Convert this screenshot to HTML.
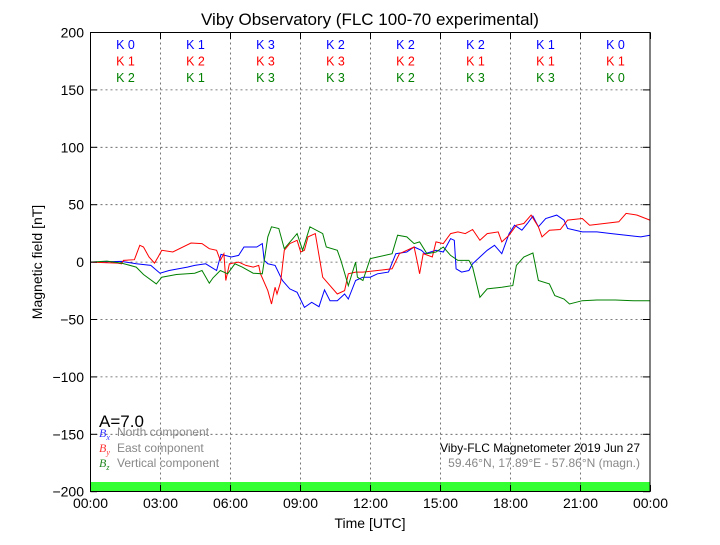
<!DOCTYPE html><html><head><style>body{margin:0;background:#fff}svg{font-family:"Liberation Sans",sans-serif}</style></head><body>
<svg id="s" width="720" height="540" viewBox="0 0 720 540">
<rect width="720" height="540" fill="#fff"/>
<text x="370" y="25" font-size="17" text-anchor="middle">Viby Observatory (FLC 100-70 experimental)</text>
<rect x="90.5" y="482" width="559.5" height="9" fill="#33ff33"/>
<g id="grid" stroke="#555" stroke-dasharray="2,3" stroke-width="0.8"></g>
<g id="lines" fill="none" stroke-width="1"></g>
<rect x="90.5" y="32.5" width="559.5" height="459" fill="none" stroke="#000" stroke-width="1"/>
<g id="ticks" stroke="#000"></g>
<g id="lab" font-size="14"></g>
<g id="k" font-size="12.5" text-anchor="middle"></g>
<text x="370" y="528" font-size="14" text-anchor="middle">Time [UTC]</text>
<text transform="translate(42,262) rotate(-90)" font-size="14" text-anchor="middle">Magnetic field [nT]</text>
<text x="99" y="427" font-size="17">A=7.0</text>
<text x="99" y="437" font-size="12" fill="#3333ff" font-style="italic" font-family="Liberation Serif">B<tspan font-size="8" dy="3">x</tspan></text>
<text x="117" y="436" font-size="12" fill="#888">North component</text>
<text x="99" y="452" font-size="12" fill="#ff3333" font-style="italic" font-family="Liberation Serif">B<tspan font-size="8" dy="3">y</tspan></text>
<text x="117" y="452" font-size="12" fill="#888">East component</text>
<text x="99" y="467" font-size="12" fill="#228822" font-style="italic" font-family="Liberation Serif">B<tspan font-size="8" dy="3">z</tspan></text>
<text x="117" y="467" font-size="12" fill="#888">Vertical component</text>
<text x="640" y="452" font-size="12" text-anchor="end">Viby-FLC Magnetometer 2019 Jun 27</text>
<text x="640" y="467" font-size="12" text-anchor="end" fill="#888">59.46°N, 17.89°E - 57.86°N (magn.)</text>
</svg>
<script>
const NS="http://www.w3.org/2000/svg";
function el(p,t,a,txt){const e=document.createElementNS(NS,t);for(const k in a)e.setAttribute(k,a[k]);if(txt!=null)e.textContent=txt;document.getElementById(p).appendChild(e);}
for(let i=0;i<=8;i++){const x=90.5+i*70;
 if(i>0&&i<8)el('grid','line',{x1:x,y1:32.5,x2:x,y2:491.5});
 el('ticks','line',{x1:x,y1:491.5,x2:x,y2:485});el('ticks','line',{x1:x,y1:32.5,x2:x,y2:39});
 el('lab','text',{x:x,y:508,'text-anchor':'middle'},String((i*3)%24).padStart(2,'0')+':00');}
for(let i=0;i<=8;i++){const v=200-i*50;const y=32.5+i*57.4;
 if(i>0&&i<8)el('grid','line',{x1:90.5,y1:y,x2:650,y2:y});
 el('ticks','line',{x1:90.5,y1:y,x2:97,y2:y});el('ticks','line',{x1:650,y1:y,x2:643,y2:y});
 el('lab','text',{x:84,y:y+5,'text-anchor':'end'},v<0?'\u2212'+(-v):String(v));}
const K=[[0,1,3,2,2,2,1,0],[1,2,3,3,2,1,1,1],[2,1,3,3,2,3,3,0]];const C=['#0000ff','#ff0000','#008000'];
K.forEach((r,j)=>r.forEach((k,i)=>el('k','text',{x:125.5+i*70,y:49+j*16.5,fill:C[j]},'K '+k)));
function pl(arr,c){el('lines','polyline',{stroke:c,points:arr.map(p=>(p[0]/2.735+85).toFixed(1)+','+(p[1]/2.98+200).toFixed(1)).join(' ')});}
pl([[15,185],[100,183],[140,190],[180,195],[205,218],[230,210],[280,200],[300,195],[330,190],[360,210],[372,162],[400,170],[420,165],[435,140],[470,140],[485,130],[490,180],[500,190],[520,195],[540,240],[560,265],[580,275],[600,320],[620,305],[640,318],[655,268],[670,300],[690,300],[710,280],[720,295],[740,240],[760,230],[780,230],[800,220],[830,215],[850,160],[880,155],[900,140],[920,150],[930,160],[960,150],[980,155],[1000,115],[1010,120],[1015,205],[1030,215],[1050,210],[1060,190],[1080,170],[1100,150],[1120,135],[1140,160],[1160,100],[1175,75],[1195,90],[1210,70],[1225,48],[1240,80],[1260,55],[1290,45],[1310,60],[1320,85],[1360,95],[1400,95],[1440,100],[1480,105],[1520,110],[1545,105]],'#0000ff');
pl([[15,185],[90,188],[100,190],[105,180],[135,178],[150,135],[160,140],[175,170],[190,188],[200,170],[210,150],[240,155],[290,128],[320,130],[340,145],[360,150],[370,180],[380,160],[385,240],[395,190],[420,185],[440,195],[460,200],[475,195],[480,220],[500,270],[510,310],[520,260],[525,280],[535,245],[545,150],[560,130],[580,120],[590,155],[600,150],[610,110],[630,100],[650,230],[690,280],[710,270],[720,220],[740,215],[760,215],[800,210],[840,205],[860,160],[900,140],[910,190],[915,220],[925,160],[950,170],[960,125],[980,130],[1000,100],[1020,95],[1040,100],[1060,88],[1080,120],[1100,100],[1130,95],[1140,125],[1160,105],[1180,75],[1200,70],[1220,45],[1240,80],[1250,110],[1270,90],[1300,88],[1320,60],[1360,55],[1380,75],[1420,70],[1460,65],[1480,40],[1510,45],[1545,60]],'#ff0000');
pl([[15,185],[60,182],[100,188],[140,200],[160,222],[195,250],[210,230],[250,222],[280,220],[300,218],[320,210],[340,248],[350,232],[370,210],[390,220],[410,190],[430,200],[460,218],[485,220],[500,110],[510,80],[530,85],[545,145],[580,100],[595,150],[615,80],[650,100],[660,140],[690,150],[700,180],[720,255],[740,185],[745,230],[760,240],[780,175],[800,170],[840,160],[855,105],[880,110],[900,130],[915,125],[935,160],[960,155],[980,140],[1000,165],[1020,180],[1050,180],[1060,200],[1080,290],[1100,265],[1140,260],[1170,255],[1180,195],[1200,170],[1225,158],[1240,240],[1270,250],[1285,285],[1310,295],[1325,310],[1360,300],[1400,298],[1450,298],[1500,300],[1545,300]],'#008000');
</script>
</body></html>
